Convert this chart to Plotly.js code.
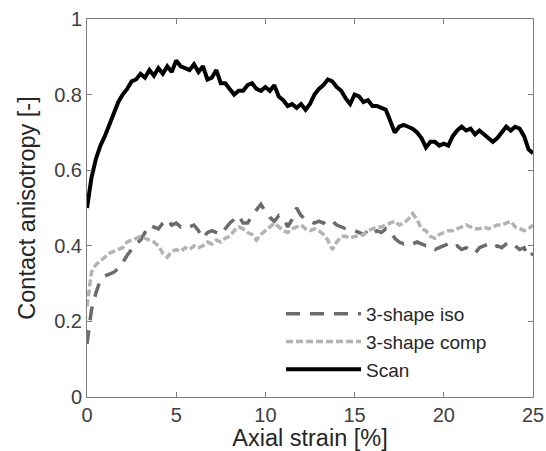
<!DOCTYPE html>
<html>
<head>
<meta charset="utf-8">
<script src="https://cdn.plot.ly/plotly-3.0.1.min.js"></script>
<style>html,body{margin:0;padding:0;background:#fff;}#chart{width:546px;height:451px;}</style>
</head>
<body>
<div id="chart"></div>
<script>
const strain = [0,0.25,0.5,0.75,1,1.25,1.5,1.75,2,2.25,2.5,2.75,3,3.25,3.5,3.75,4,4.25,4.5,4.75,5,5.25,5.5,5.75,6,6.25,6.5,6.75,7,7.25,7.5,7.75,8,8.25,8.5,8.75,9,9.25,9.5,9.75,10,10.25,10.5,10.75,11,11.25,11.5,11.75,12,12.25,12.5,12.75,13,13.25,13.5,13.75,14,14.25,14.5,14.75,15,15.25,15.5,15.75,16,16.25,16.5,16.75,17,17.25,17.5,17.75,18,18.25,18.5,18.75,19,19.25,19.5,19.75,20,20.25,20.5,20.75,21,21.25,21.5,21.75,22,22.25,22.5,22.75,23,23.25,23.5,23.75,24,24.25,24.5,24.75,25];

const isoValues = [0.14,0.23,0.275,0.31,0.32,0.325,0.33,0.34,0.355,0.375,0.39,0.405,0.415,0.435,0.43,0.45,0.445,0.46,0.47,0.455,0.46,0.45,0.455,0.45,0.455,0.44,0.42,0.435,0.44,0.435,0.43,0.445,0.46,0.47,0.48,0.46,0.46,0.48,0.495,0.51,0.49,0.475,0.465,0.48,0.475,0.45,0.47,0.5,0.48,0.47,0.465,0.46,0.465,0.46,0.47,0.465,0.455,0.45,0.445,0.44,0.44,0.435,0.43,0.44,0.43,0.44,0.435,0.445,0.44,0.42,0.41,0.405,0.41,0.405,0.41,0.405,0.4,0.4,0.39,0.395,0.4,0.405,0.395,0.4,0.39,0.395,0.385,0.38,0.395,0.4,0.405,0.395,0.4,0.395,0.405,0.41,0.4,0.39,0.395,0.37,0.38];

const compValues = [0.24,0.33,0.35,0.36,0.37,0.38,0.385,0.39,0.395,0.41,0.415,0.42,0.425,0.42,0.415,0.41,0.4,0.38,0.37,0.385,0.39,0.385,0.395,0.39,0.4,0.395,0.4,0.41,0.405,0.415,0.41,0.42,0.425,0.44,0.45,0.445,0.435,0.43,0.415,0.43,0.44,0.45,0.46,0.45,0.44,0.435,0.445,0.45,0.455,0.445,0.44,0.445,0.44,0.43,0.415,0.39,0.41,0.425,0.425,0.42,0.425,0.425,0.43,0.44,0.445,0.45,0.45,0.455,0.46,0.465,0.455,0.46,0.47,0.485,0.47,0.445,0.44,0.425,0.42,0.43,0.435,0.44,0.44,0.445,0.45,0.455,0.45,0.445,0.445,0.45,0.445,0.45,0.455,0.455,0.46,0.465,0.45,0.445,0.44,0.445,0.455];

const scanValues = [0.5,0.58,0.63,0.665,0.69,0.72,0.745,0.78,0.8,0.815,0.835,0.84,0.855,0.845,0.865,0.85,0.87,0.855,0.875,0.86,0.89,0.875,0.87,0.865,0.88,0.86,0.875,0.84,0.845,0.865,0.83,0.83,0.815,0.8,0.81,0.81,0.825,0.83,0.815,0.81,0.82,0.81,0.825,0.795,0.785,0.77,0.775,0.765,0.775,0.76,0.775,0.8,0.815,0.825,0.84,0.835,0.82,0.81,0.79,0.775,0.8,0.795,0.78,0.785,0.77,0.77,0.765,0.76,0.73,0.7,0.715,0.72,0.715,0.71,0.7,0.685,0.66,0.675,0.675,0.665,0.67,0.665,0.69,0.705,0.715,0.705,0.71,0.695,0.705,0.695,0.685,0.675,0.685,0.7,0.715,0.705,0.715,0.71,0.69,0.655,0.645];

const seriesNames = ["3-shape iso", "3-shape comp", "Scan"];
const xTicks = [0,5,10,15,20,25];
const yTicks = [0,0.2,0.4,0.6,0.8,1];
const yTickLabels = ["0","0.2","0.4","0.6","0.8","1"];

const FONT = "Liberation Sans, Arial, sans-serif";

const traces = [
  {x: strain, y: isoValues, name: seriesNames[0], mode: "lines",
   line: {color: "#6b6b6b", width: 3.5, dash: "14px,10px"}},
  {x: strain, y: compValues, name: seriesNames[1], mode: "lines",
   line: {color: "#b3b3b3", width: 3.5, dash: "7px,3px"}},
  {x: strain, y: scanValues, name: seriesNames[2], mode: "lines",
   line: {color: "#000000", width: 4}}
];

const axisCommon = {
  showgrid: false, zeroline: false, showline: true, mirror: "ticks",
  linecolor: "#7f7f7f", linewidth: 1, ticks: "inside", ticklen: 5,
  tickcolor: "#7f7f7f", tickfont: {family: FONT, size: 20, color: "#404040"}
};

const layout = {
  width: 546, height: 451,
  margin: {l: 87, r: 13, t: 19, b: 54, pad: 0},
  paper_bgcolor: "#ffffff", plot_bgcolor: "#ffffff",
  showlegend: true,
  legend: {x: 0.435, y: 0.27, xanchor: "left", yanchor: "top", bgcolor: "rgba(255,255,255,0)",
    borderwidth: 0, itemwidth: 75, tracegroupgap: 0,
    font: {family: FONT, size: 19, color: "#262626"}},
  xaxis: Object.assign({}, axisCommon, {range: [0, 25], tickvals: xTicks, ticktext: xTicks.map(String),
    title: {text: "Axial strain [%]", standoff: 4, font: {family: FONT, size: 23.5, color: "#262626"}}}),
  yaxis: Object.assign({}, axisCommon, {range: [0, 1], tickvals: yTicks, ticktext: yTickLabels,
    title: {text: "Contact anisotropy [-]", standoff: 11, font: {family: FONT, size: 23.5, color: "#262626"}}})
};

Plotly.newPlot("chart", traces, layout, {displayModeBar: false, staticPlot: true});
</script>
</body>
</html>
